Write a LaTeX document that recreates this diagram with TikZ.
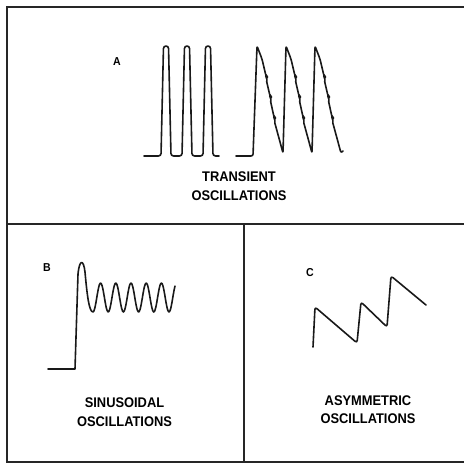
\documentclass[tikz,border=0pt]{standalone}
\usepackage{fontspec}
\newfontfamily\capfont[FakeStretch=0.92]{Liberation Sans}
\usetikzlibrary{positioning}

\begin{document}
\begin{tikzpicture}[x=1pt, y=1pt,
  frame/.style={line width=1.8pt, black!85},
  wave/.style={line width=1.6pt, black!90, line join=round, line cap=round},
  caption/.style={align=center, inner sep=0pt, font=\capfont\bfseries\fontsize{14}{18.5}\selectfont},
  tag/.style={inner sep=0pt, font=\capfont\bfseries\fontsize{11.5}{13}\selectfont}
]
  \useasboundingbox (0,0) rectangle (464,464);

  % panels
  \draw[frame] (464,457) -- (7,457) -- (7,2) -- (464,2);
  \draw[frame] (7,240) -- (464,240);
  \draw[frame] (244,240) -- (244,2);

  % A: transient
  \node[tag] (tagA) at (117,402) {A};
  \draw[wave, rounded corners=2.5pt] (144,308)
    foreach \c in {166,187,208} { -- (\c-5,308) -- (\c-2.5,418) -- (\c+2.5,418) -- (\c+5,308) }
    -- (219,308);
  \draw[wave, rounded corners=2pt] (236,308) -- (253,308)
    foreach \x in {0,29,58} { -- (257+\x,418) -- (262+\x,405)
      -- (266+\x,388) -- (267.3+\x,387) -- (266.3+\x,384)
      -- (270+\x,368) -- (271.3+\x,367) -- (270.3+\x,364)
      -- (274+\x,347) -- (275.3+\x,346) -- (274.3+\x,343)
      -- (283+\x,311) }
    -- (343,313);
  \node[caption] (capA) at (239,278) {TRANSIENT\\OSCILLATIONS};

  % B: sinusoidal
  \node[tag] (tagB) at (47,196) {B};
  \draw[wave] (48,95) -- (75,95) -- (78,190)
    .. controls (79.5,205) and (83.5,205) .. (85,192)
    .. controls (87,170) and (89,152) .. (93,152)
    -- plot[domain=0:82, samples=90, smooth] ({93+\x}, {166.5-14.5*cos(\x*23.684)});
  \node[caption] (capB) at (124.5,52) {SINUSOIDAL\\OSCILLATIONS};

  % C: asymmetric
  \node[tag] (tagC) at (310,191) {C};
  \draw[wave, rounded corners=2.5pt] (313,117) -- (315,157) -- (357,121)
    -- (361,162) -- (387,137) -- (391,188) -- (426,159);
  \node[caption] (capC) at (368,54.5) {ASYMMETRIC\\OSCILLATIONS};
\end{tikzpicture}
\end{document}
